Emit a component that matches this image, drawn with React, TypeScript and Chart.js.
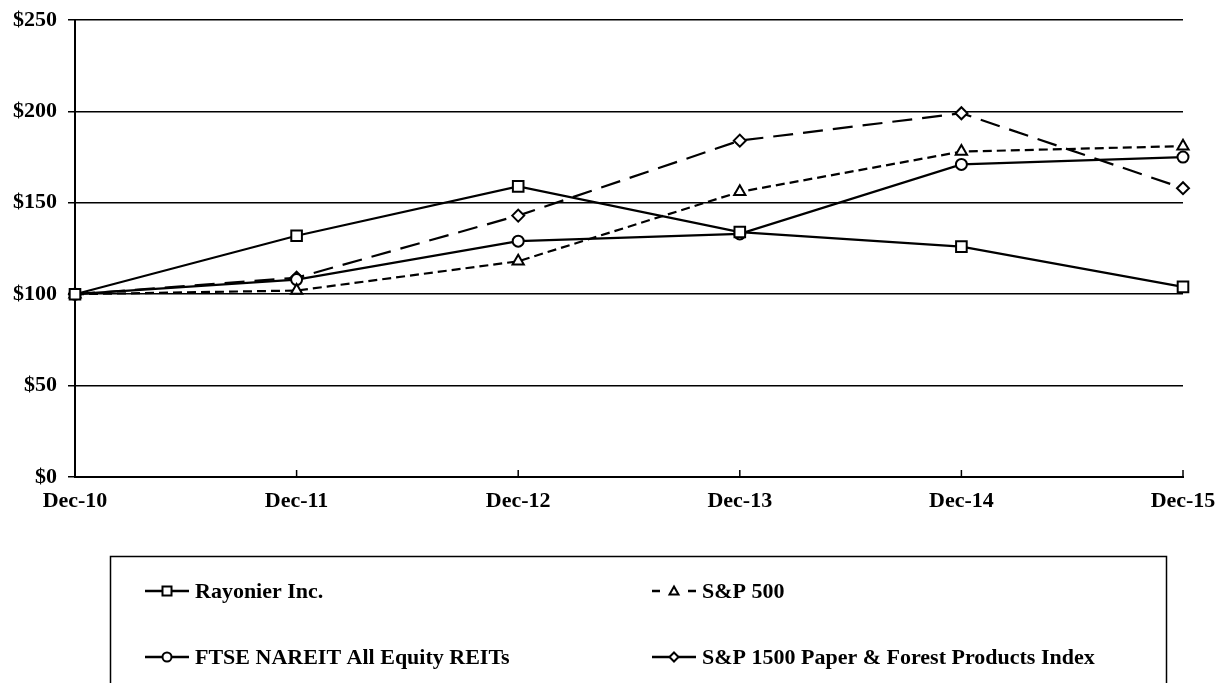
import React, { useEffect, useRef } from 'react';
import { Chart, registerables } from 'chart.js';

Chart.register(...registerables);

const categories = ['Dec-10', 'Dec-11', 'Dec-12', 'Dec-13', 'Dec-14', 'Dec-15'];
const rayonier = [100, 132, 159, 134, 126, 104];
const sp500 = [100, 102, 118, 156, 178, 181];
const ftseNareit = [100, 108, 129, 133, 171, 175];
const paperForest = [100, 109, 143, 184, 199, 158];
const seriesNames = [
  'Rayonier Inc.',
  'S&P 500',
  'FTSE NAREIT All Equity REITs',
  'S&P 1500 Paper & Forest Products Index',
];

const FONT = "'Liberation Serif', 'Times New Roman', serif";

function drawMarker(ctx: CanvasRenderingContext2D, kind: string, x: number, y: number, s: number) {
  ctx.beginPath();
  if (kind === 'rect') {
    ctx.rect(x - s, y - s, 2 * s, 2 * s);
  } else if (kind === 'circle') {
    ctx.arc(x, y, s, 0, Math.PI * 2);
  } else if (kind === 'triangle') {
    ctx.moveTo(x, y - s);
    ctx.lineTo(x + s, y + s * 0.8);
    ctx.lineTo(x - s, y + s * 0.8);
    ctx.closePath();
  } else {
    ctx.moveTo(x, y - s);
    ctx.lineTo(x + s, y);
    ctx.lineTo(x, y + s);
    ctx.lineTo(x - s, y);
    ctx.closePath();
  }
  ctx.fillStyle = '#fff';
  ctx.fill();
  ctx.stroke();
}

const legendPlugin = {
  id: 'customLegend',
  afterDraw(chart: any) {
    const ctx: CanvasRenderingContext2D = chart.ctx;
    ctx.save();
    ctx.strokeStyle = '#000';
    ctx.lineWidth = 1.5;
    ctx.strokeRect(110.5, 556.5, 1056, 200);
    const items = [
      { x: 145, y: 591, kind: 'rect', dashed: false, name: seriesNames[0] },
      { x: 652, y: 591, kind: 'triangle', dashed: true, name: seriesNames[1] },
      { x: 145, y: 657, kind: 'circle', dashed: false, name: seriesNames[2] },
      { x: 652, y: 657, kind: 'diamond', dashed: false, name: seriesNames[3] },
    ];
    ctx.font = `bold 22px ${FONT}`;
    ctx.textBaseline = 'middle';
    ctx.textAlign = 'left';
    for (const it of items) {
      ctx.strokeStyle = '#000';
      ctx.lineWidth = 2.5;
      ctx.beginPath();
      if (it.dashed) {
        ctx.moveTo(it.x, it.y);
        ctx.lineTo(it.x + 8, it.y);
        ctx.moveTo(it.x + 36, it.y);
        ctx.lineTo(it.x + 44, it.y);
      } else {
        ctx.moveTo(it.x, it.y);
        ctx.lineTo(it.x + 44, it.y);
      }
      ctx.stroke();
      ctx.lineWidth = 2;
      drawMarker(ctx, it.kind, it.x + 22, it.y, 4.5);
      ctx.fillStyle = '#000';
      ctx.fillText(it.name, it.x + 50, it.y + 1);
    }
    ctx.restore();
  },
};

const innerTicksPlugin = {
  id: 'innerTicks',
  beforeDatasetsDraw(chart: any) {
    const ctx: CanvasRenderingContext2D = chart.ctx;
    const xs = chart.scales.x;
    const bottom = chart.chartArea.bottom;
    ctx.save();
    ctx.strokeStyle = '#000';
    ctx.lineWidth = 1.5;
    for (let i = 1; i < categories.length; i++) {
      const px = xs.getPixelForTick(i);
      ctx.beginPath();
      ctx.moveTo(px, bottom);
      ctx.lineTo(px, bottom - 7);
      ctx.stroke();
    }
    ctx.restore();
  },
};

export default function App() {
  const ref = useRef<HTMLCanvasElement | null>(null);

  useEffect(() => {
    if (!ref.current) return;
    const common = {
      borderColor: '#000',
      borderWidth: 2.2,
      pointBackgroundColor: '#fff',
      pointBorderColor: '#000',
      pointBorderWidth: 2,
      tension: 0,
      fill: false,
    };
    const chart = new Chart(ref.current, {
      type: 'line',
      data: {
        labels: categories,
        datasets: [
          { ...common, label: seriesNames[0], data: rayonier, pointStyle: 'rect', pointRadius: 7.5 },
          { ...common, label: seriesNames[1], data: sp500, pointStyle: 'triangle', pointRadius: 6.5, borderDash: [9, 5] },
          { ...common, label: seriesNames[2], data: ftseNareit, pointStyle: 'circle', pointRadius: 5.5 },
          { ...common, label: seriesNames[3], data: paperForest, pointStyle: 'rectRot', pointRadius: 6, borderDash: [20, 10] },
        ],
      },
      options: {
        responsive: false,
        animation: false,
        devicePixelRatio: 1,
        layout: { padding: { top: 20, right: 33, bottom: 166, left: 0 } },
        plugins: {
          legend: { display: false },
          tooltip: { enabled: false },
          title: { display: false },
        },
        scales: {
          x: {
            type: 'category',
            offset: false,
            grid: { display: true, drawOnChartArea: false, drawTicks: false, color: '#000' },
            border: { display: true, color: '#000', width: 2 },
            ticks: {
              color: '#000',
              font: { family: FONT, size: 22, weight: 'bold' },
              padding: 11,
              maxRotation: 0,
              autoSkip: false,
            },
            afterFit: (scale: any) => {
              scale.height = 40;
              scale.paddingLeft = 0;
              scale.paddingRight = 0;
            },
          },
          y: {
            min: 0,
            max: 250,
            grid: { color: '#000', lineWidth: 1.5, tickLength: 7, drawTicks: true },
            border: { display: true, color: '#000', width: 2 },
            ticks: {
              stepSize: 50,
              color: '#000',
              padding: 11,
              font: { family: FONT, size: 22, weight: 'bold' },
              callback: (v: any) => '$' + v,
            },
            afterFit: (scale: any) => {
              scale.width = 75;
              scale.paddingTop = 0;
              scale.paddingBottom = 0;
            },
          },
        },
      },
      plugins: [innerTicksPlugin, legendPlugin],
    });
    return () => chart.destroy();
  }, []);

  return (
    <div style={{ position: 'fixed', left: 0, top: 0, width: 1216, height: 683, background: '#fff' }}>
      <canvas ref={ref} width={1216} height={683} style={{ width: 1216, height: 683, display: 'block' }} />
    </div>
  );
}
